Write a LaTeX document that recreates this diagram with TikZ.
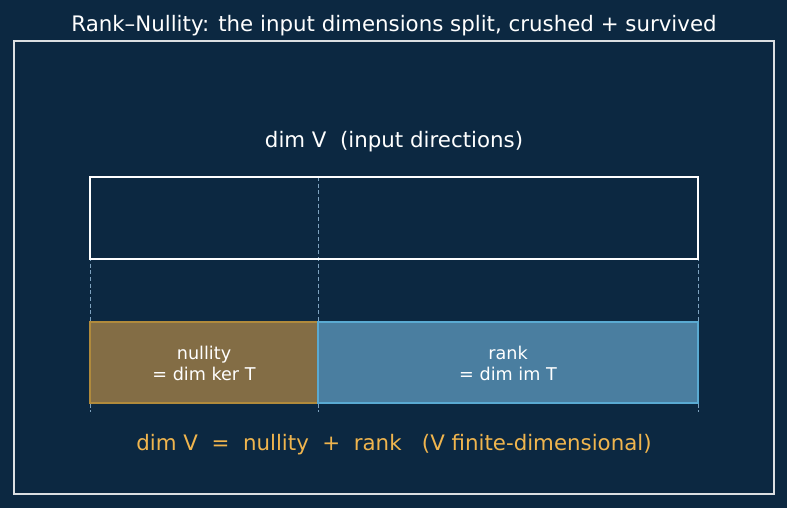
\documentclass[tikz,border=0pt]{standalone}
\usepackage{fontspec}
\setmainfont{DejaVu Sans}
\definecolor{bgnavy}{HTML}{0C2841}
\definecolor{goldtxt}{HTML}{F0B54E}
\definecolor{nullfill}{HTML}{836D45}
\definecolor{nulldraw}{HTML}{B08A3C}
\definecolor{rankfill}{HTML}{4A7EA0}
\definecolor{rankdraw}{HTML}{5AAAD2}
\definecolor{guide}{HTML}{7FA3BF}
\tikzset{
  txt/.style={text=white, font=\fontsize{16pt}{19pt}\selectfont, inner sep=0pt},
  boxlbl/.style={text=white, font=\fontsize{13.2pt}{15.8pt}\selectfont, align=center, inner sep=0pt},
  guideline/.style={draw=guide, line width=0.6pt, dash pattern=on 3pt off 2pt},
}
\begin{document}
\begin{tikzpicture}[x=0.75pt, y=-0.75pt]
\fill[bgnavy] (0,0) rectangle (787,508);
\useasboundingbox (0,0) rectangle (787,508);
\draw[white!85!bgnavy, line width=0.8pt] (14,41) rectangle (774,494);
\node[txt] (title) at (394,25.5) {Rank–Nullity: the input dimensions split, crushed + survived};
\node[txt] (dimv) at (394,142) {dim V\ \ (input directions)};
% guides
\coordinate (g1t) at (90,177); \coordinate (g1b) at (90,412);
\coordinate (g2t) at (318,177); \coordinate (g2b) at (318,412);
\coordinate (g3t) at (698,177); \coordinate (g3b) at (698,412);
\draw[guideline] (g1t) -- (g1b);
\draw[guideline] (g2t) -- (g2b);
\draw[guideline] (g3t) -- (g3b);
\node[draw=white, line width=1.5pt, minimum width=608*0.75pt, minimum height=82*0.75pt, inner sep=0pt] (vbox) at (394,218) {};
\node[fill=nullfill, draw=nulldraw, line width=1pt, minimum width=228*0.75pt, minimum height=81*0.75pt, inner sep=0pt] (nbox) at (204,362.5) {};
\node[fill=rankfill, draw=rankdraw, line width=1pt, minimum width=380*0.75pt, minimum height=81*0.75pt, inner sep=0pt] (rbox) at (508,362.5) {};
\node[boxlbl] (nlbl) at ([yshift=-0.75pt]nbox.center) {nullity\\= dim ker T};
\node[boxlbl] (rlbl) at ([yshift=-0.75pt]rbox.center) {rank\\= dim im T};
\node[txt, text=goldtxt] (eq) at (394,444.5) {dim V\ \ =\ \ nullity\ \ +\ \ rank\ \ \ (V finite-dimensional)};
\end{tikzpicture}
\end{document}
